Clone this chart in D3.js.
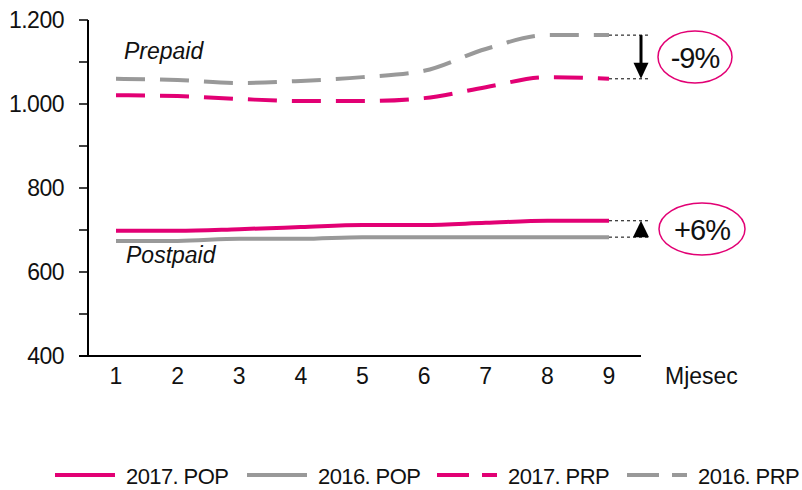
<!DOCTYPE html>
<html>
<head>
<meta charset="utf-8">
<script src="https://cdn.jsdelivr.net/npm/d3@7"></script>
<style>
  body { margin: 0; background: #fff; }
  svg text { font-family: 'Liberation Sans', Arial, sans-serif; fill: #111; }
</style>
</head>
<body>
<div id="chart"></div>
<script>
const months = [1, 2, 3, 4, 5, 6, 7, 8, 9]
const pop2017 = [698, 698, 702, 707, 712, 712, 717, 722, 722]
const pop2016 = [674, 674, 679, 679, 683, 683, 683, 683, 683]
const prp2017 = [1021, 1019, 1012, 1007, 1007, 1014, 1040, 1064, 1060]
const prp2016 = [1060, 1057, 1050, 1055, 1064, 1079, 1131, 1164, 1164]
const yTicks = [400, 500, 600, 700, 800, 900, 1000, 1100, 1200]
const yLabels = [400, 600, 800, 1000, 1200]
const seriesNames = ['2017. POP', '2016. POP', '2017. PRP', '2016. PRP']
const changes = ['-9%', '+6%']

const magenta = '#e20074'
const gray = '#999999'

const width = 802
const height = 490

const svg = d3.select('#chart').append('svg').attr('width', width).attr('height', height)

const x = d3.scaleLinear().domain([1, 9]).range([116, 609])
const y = d3.scaleLinear().domain([400, 1200]).range([356, 20])

const fmt = d => d3.format(',')(d).replace(',', '.')

// y axis
svg.append('line').attr('x1', 88).attr('x2', 88).attr('y1', y(1200)).attr('y2', y(400))
  .attr('stroke', '#000').attr('stroke-width', 2)
svg.append('g').selectAll('line').data(yTicks).enter().append('line')
  .attr('x1', 79).attr('x2', 88).attr('y1', d => y(d)).attr('y2', d => y(d))
  .attr('stroke', '#000').attr('stroke-width', 1.5)
svg.append('g').selectAll('text').data(yLabels).enter().append('text')
  .attr('x', 64).attr('y', d => y(d) + 8).attr('text-anchor', 'end')
  .style('font-size', '23px').style('letter-spacing', '-0.5px').text(fmt)

// x axis
svg.append('line').attr('x1', 79).attr('x2', 641).attr('y1', y(400)).attr('y2', y(400))
  .attr('stroke', '#000').attr('stroke-width', 2)
svg.append('g').selectAll('text').data(months).enter().append('text')
  .attr('x', d => x(d)).attr('y', 384).attr('text-anchor', 'middle')
  .style('font-size', '23px').text(d => d)
svg.append('text').attr('x', 665).attr('y', 384).style('font-size', '23px').text('Mjesec')

// lines
const line = d3.line().x((d, i) => x(months[i])).y(d => y(d)).curve(d3.curveMonotoneX)
const series = [
  { values: pop2016, color: gray, dash: null },
  { values: pop2017, color: magenta, dash: null },
  { values: prp2016, color: gray, dash: '29,15' },
  { values: prp2017, color: magenta, dash: '29,15' }
]
svg.append('g').selectAll('path').data(series).enter().append('path')
  .attr('d', d => line(d.values))
  .attr('fill', 'none')
  .attr('stroke', d => d.color)
  .attr('stroke-width', 4)
  .attr('stroke-dasharray', d => d.dash)

// series group labels
svg.append('text').attr('x', 124).attr('y', 59).style('font-size', '23px')
  .style('font-style', 'italic').text('Prepaid')
svg.append('text').attr('x', 126).attr('y', 263).style('font-size', '23px')
  .style('font-style', 'italic').text('Postpaid')

// change annotations
const last = months.length - 1
const ax = 641
const guides = [prp2016[last], prp2017[last], pop2017[last], pop2016[last]]
svg.append('g').selectAll('line').data(guides).enter().append('line')
  .attr('x1', x(9)).attr('x2', 649).attr('y1', d => y(d)).attr('y2', d => y(d))
  .attr('stroke', '#000').attr('stroke-width', 1).attr('stroke-dasharray', '3,3')

// down arrow (prepaid)
svg.append('line').attr('x1', ax).attr('x2', ax)
  .attr('y1', y(prp2016[last])).attr('y2', y(prp2017[last]) - 12)
  .attr('stroke', '#000').attr('stroke-width', 3)
svg.append('path')
  .attr('d', `M${ax - 7.5},${y(prp2017[last]) - 16} L${ax + 7.5},${y(prp2017[last]) - 16} L${ax},${y(prp2017[last])} Z`)
  .attr('fill', '#000')
// up arrow (postpaid)
svg.append('path')
  .attr('d', `M${ax - 8},${y(pop2016[last])} L${ax + 8},${y(pop2016[last])} L${ax},${y(pop2017[last])} Z`)
  .attr('fill', '#000')

const bubbles = [
  { cx: 695, cy: 57, rx: 37, ry: 26, text: changes[0] },
  { cx: 702, cy: 229, rx: 43, ry: 26, text: changes[1] }
]
const b = svg.append('g').selectAll('g').data(bubbles).enter().append('g')
b.append('ellipse').attr('cx', d => d.cx).attr('cy', d => d.cy).attr('rx', d => d.rx).attr('ry', d => d.ry)
  .attr('fill', '#fff').attr('stroke', magenta).attr('stroke-width', 1.5)
b.append('text').attr('x', d => d.cx).attr('y', d => d.cy + 11).attr('text-anchor', 'middle')
  .style('font-size', '29px').style('letter-spacing', '-1px').text(d => d.text)

// legend
const legendItems = [
  { name: seriesNames[0], color: magenta, dash: null, x: 55 },
  { name: seriesNames[1], color: gray, dash: null, x: 247 },
  { name: seriesNames[2], color: magenta, dash: '32,13', x: 437 },
  { name: seriesNames[3], color: gray, dash: '32,13', x: 627 }
]
const lg = svg.append('g').selectAll('g').data(legendItems).enter().append('g')
  .attr('transform', d => `translate(${d.x},475)`)
lg.append('line').attr('x1', 0).attr('x2', 60).attr('y1', 0).attr('y2', 0)
  .attr('stroke', d => d.color).attr('stroke-width', 4).attr('stroke-dasharray', d => d.dash)
lg.append('text').attr('x', 71).attr('y', 9).style('font-size', '22px')
  .style('letter-spacing', '-0.6px').text(d => d.name)
</script>
</body>
</html>
